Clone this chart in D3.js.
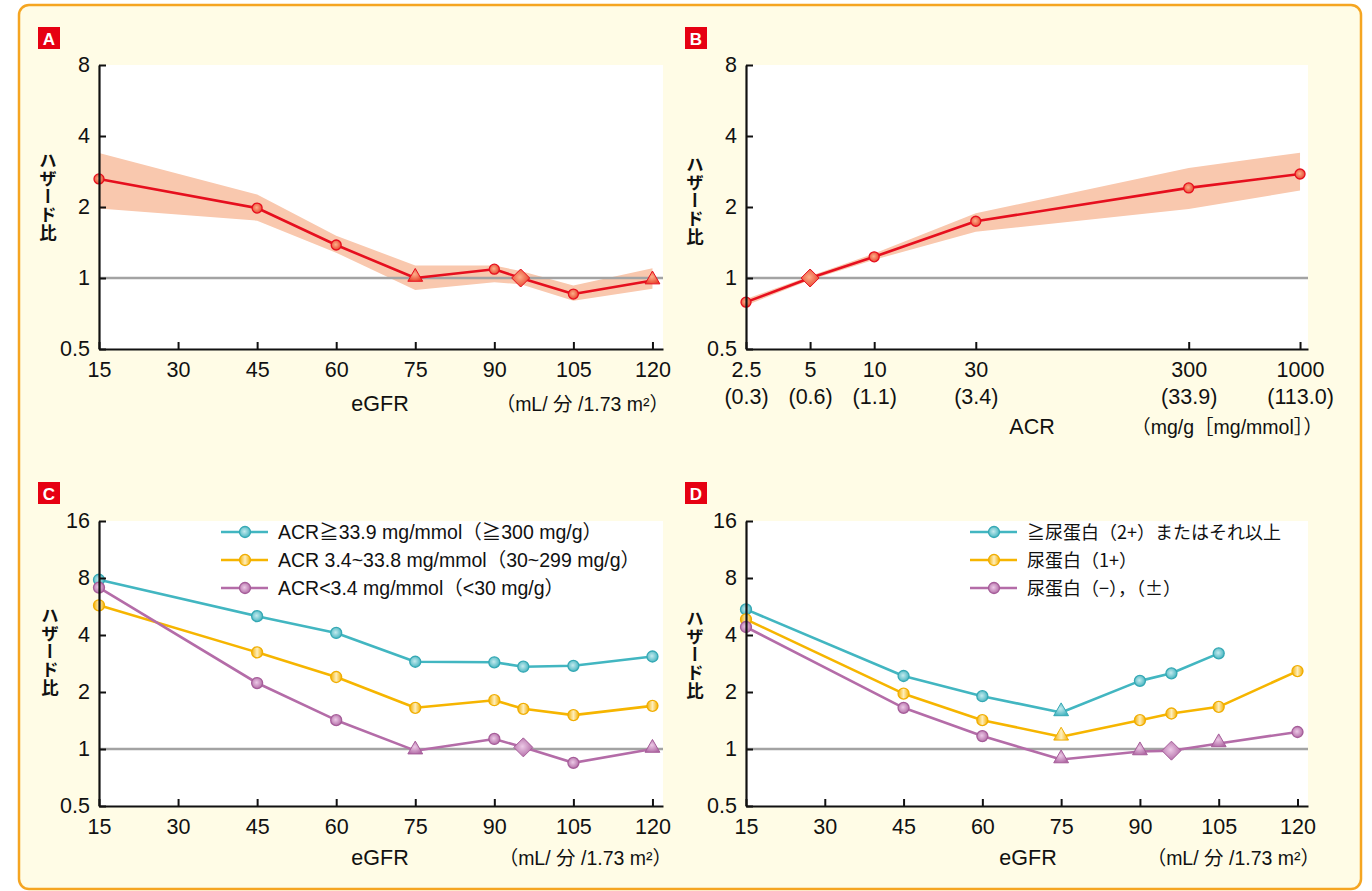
<!DOCTYPE html>
<html>
<head>
<meta charset="utf-8">
<script src="https://cdn.jsdelivr.net/npm/d3@7"></script>
<style>
  body { margin: 0; background: #fff; }
  text { font-family: "Liberation Sans", Arial, "Noto Sans CJK JP", sans-serif; fill: #111; }
  .jp { font-family: "Noto Sans CJK JP", sans-serif; }
</style>
</head>
<body>
<div id="chart"></div>
<script>
// ---- data (hazard ratios) ----
const eGFR_A = [15, 45, 60, 75, 90, 95, 105, 120]
const hr_A = [2.63, 1.98, 1.38, 1.0, 1.09, 1.0, 0.855, 0.975]
const hrHi_A = [3.39, 2.26, 1.51, 1.13, 1.13, 1.07, 0.93, 1.10]
const hrLo_A = [1.97, 1.75, 1.28, 0.89, 0.96, 0.94, 0.80, 0.90]
const mark_A = ["c", "c", "c", "t", "c", "d", "c", "t"]

const acr_B = [2.5, 5, 10, 30, 300, 1000]
const acrTicks = ["2.5", "5", "10", "30", "300", "1000"]
const acrTicksMmol = ["(0.3)", "(0.6)", "(1.1)", "(3.4)", "(33.9)", "(113.0)"]
const hr_B = [0.79, 1.0, 1.23, 1.74, 2.41, 2.76]
const hrHi_B = [0.815, 1.02, 1.27, 1.88, 2.93, 3.40]
const hrLo_B = [0.765, 0.98, 1.195, 1.57, 1.96, 2.35]
const mark_B = ["c", "d", "c", "c", "c", "c"]

const eGFR_C = [15, 45, 60, 75, 90, 95.5, 105, 120]
const acrHigh_C = [7.83, 5.03, 4.10, 2.89, 2.87, 2.72, 2.75, 3.08]
const acrMid_C = [5.74, 3.24, 2.40, 1.65, 1.81, 1.63, 1.51, 1.69]
const acrLow_C = [7.12, 2.23, 1.42, 0.98, 1.13, 1.02, 0.845, 1.0]
const markLow_C = ["c", "c", "c", "t", "c", "d", "c", "t"]
const legend_C = ["ACR≧33.9 mg/mmol（≧300 mg/g）", "ACR 3.4~33.8 mg/mmol（30~299 mg/g）", "ACR<3.4 mg/mmol（<30 mg/g）"]

const eGFR_D = [15, 45, 60, 75, 90, 96, 105, 120]
const prot2_D = [5.46, 2.43, 1.90, 1.56, 2.29, 2.51, 3.20]
const prot1_D = [4.84, 1.96, 1.42, 1.16, 1.42, 1.54, 1.67, 2.58]
const protNeg_D = [4.41, 1.65, 1.17, 0.88, 0.97, 0.98, 1.07, 1.23]
const mark2_D = ["c", "c", "c", "t", "c", "c", "c"]
const mark1_D = ["c", "c", "c", "t", "c", "c", "c", "c"]
const markNeg_D = ["c", "c", "c", "t", "t", "d", "t", "c"]
const legend_D = ["≧尿蛋白（2+）またはそれ以上", "尿蛋白（1+）", "尿蛋白（−），（±）"]

const eGFRTicks = [15, 30, 45, 60, 75, 90, 105, 120]
const hrTicks8 = [0.5, 1, 2, 4, 8]
const hrTicks16 = [0.5, 1, 2, 4, 8, 16]

const RED = "#e60f1e", CYAN = "#42b6c1", YEL = "#f6b500", PUR = "#b46ca8"
const BAND = "#f9c8ae"

const W = 1372, H = 891

const svg = d3.select("#chart").append("svg")
  .attr("width", W).attr("height", H)

// gradients for the glossy markers
const defs = svg.append("defs")
function radial(id, inner, outer) {
  const gr = defs.append("radialGradient").attr("id", id).attr("cx", "45%").attr("cy", "45%").attr("r", "60%")
  gr.append("stop").attr("offset", "0%").attr("stop-color", inner)
  gr.append("stop").attr("offset", "100%").attr("stop-color", outer)
}
radial("gRed", "#fbb08a", "#e9402a")
radial("gCyan", "#c4eaee", "#3fb2be")
radial("gPur", "#ecc9e6", "#b068a4")
const gy = defs.append("linearGradient").attr("id", "gYel")
gy.append("stop").attr("offset", "0%").attr("stop-color", "#f5b000")
gy.append("stop").attr("offset", "50%").attr("stop-color", "#fdeebd")
gy.append("stop").attr("offset", "100%").attr("stop-color", "#f5b000")

// frame
svg.append("rect")
  .attr("x", 19).attr("y", 5).attr("width", 1342).attr("height", 884)
  .attr("rx", 10).attr("fill", "#fffce6")
  .attr("stroke", "#f5a521").attr("stroke-width", 2.5)

function panelLabel(px, py, letter) {
  svg.append("rect").attr("x", px).attr("y", py).attr("width", 22).attr("height", 22).attr("fill", "#e60012")
  svg.append("text").attr("x", px + 11).attr("y", py + 18).attr("text-anchor", "middle")
    .attr("font-size", 17).attr("font-weight", "bold").style("fill", "#fff").text(letter)
}

function yLabel(cx, top) {
  svg.append("text").attr("class", "jp")
    .attr("x", cx).attr("y", top)
    .style("writing-mode", "vertical-rl")
    .style("text-orientation", "upright")
    .attr("font-size", 17.5)
    .attr("font-weight", "bold")
    .attr("letter-spacing", 0.5)
    .text("ハザード比")
}

function marker(g, type, cx, cy, fill, stroke, size) {
  if (type === "c") {
    g.append("circle").attr("cx", cx).attr("cy", cy).attr("r", size)
      .attr("fill", fill).attr("stroke", stroke).attr("stroke-width", 1.3)
  } else if (type === "t") {
    g.append("path").attr("d", d3.symbol(d3.symbolTriangle, 95)()).attr("transform", `translate(${cx},${cy - 1})`)
      .attr("fill", fill).attr("stroke", stroke).attr("stroke-width", 1)
  } else {
    const s = size + 4
    g.append("path").attr("d", `M0,${-s}L${s},0L0,${s}L${-s},0Z`).attr("transform", `translate(${cx},${cy})`)
      .attr("fill", fill).attr("stroke", stroke).attr("stroke-width", 1)
  }
}

function frame(x, y) {
  const g = svg.append("g")
  const [x0, x1] = x.range()
  const [y0, y1] = y.range()
  g.append("rect").attr("x", x0).attr("y", y1).attr("width", x1 - x0).attr("height", y0 - y1).attr("fill", "#fff")
  return g
}

function axes(g, x, y, ticksY, xAxisCall) {
  const [x0] = x.range()
  const [y0] = y.range()
  const yAxis = g.append("g").attr("transform", `translate(${x0},0)`)
    .call(d3.axisLeft(y).tickValues(ticksY).tickFormat(d3.format("")).tickSize(-7).tickSizeOuter(0).tickPadding(9))
  const xAxis = g.append("g").attr("transform", `translate(0,${y0})`).call(xAxisCall)
  ;[yAxis, xAxis].forEach(a => {
    a.select(".domain").attr("stroke", "#111").attr("stroke-width", 2.2)
    a.selectAll(".tick line").attr("stroke", "#111").attr("stroke-width", 2)
    a.selectAll(".tick text").attr("font-size", 21.5).attr("font-family", "Liberation Sans, Arial, sans-serif").style("fill", "#111")
  })
  return xAxis
}

function refLine(g, x, y) {
  g.append("line").attr("x1", x.range()[0]).attr("x2", x.range()[1])
    .attr("y1", y(1)).attr("y2", y(1)).attr("stroke", "#a3a3a3").attr("stroke-width", 2.5)
}

function series(g, x, y, xs, ys, marks, color, fill, stroke, r) {
  const line = d3.line().x((d, i) => x(xs[i])).y(d => y(d))
  g.append("path").datum(ys).attr("d", line).attr("fill", "none")
    .attr("stroke", color).attr("stroke-width", 2.6).attr("stroke-linejoin", "round")
  ys.forEach((v, i) => marker(g, marks[i], x(xs[i]), y(v), fill, stroke, r))
}

function band(g, x, y, xs, lo, hi) {
  const area = d3.area().x((d, i) => x(xs[i])).y0((d, i) => y(lo[i])).y1((d, i) => y(hi[i]))
  g.append("path").datum(xs).attr("d", area).attr("fill", BAND)
}

function xLabels(cx, unitEnd, base, name, unit) {
  svg.append("text").attr("x", cx).attr("y", base).attr("text-anchor", "middle").attr("font-size", 21.5).text(name)
  svg.append("text").attr("x", unitEnd).attr("y", base).attr("text-anchor", "end").attr("font-size", 19.5).text(unit)
}

const eGFRAxis = x => d3.axisBottom(x).tickValues(eGFRTicks).tickSize(-7).tickSizeOuter(0).tickPadding(13)

function legend(x0, rows, colors, fills, strokes, cls, fs) {
  rows.forEach((t, i) => {
    const yy = 532 + i * 28
    svg.append("line").attr("x1", x0).attr("x2", x0 + 47).attr("y1", yy).attr("y2", yy)
      .attr("stroke", colors[i]).attr("stroke-width", 2.6)
    svg.append("circle").attr("cx", x0 + 24).attr("cy", yy).attr("r", 5.5)
      .attr("fill", fills[i]).attr("stroke", strokes[i]).attr("stroke-width", 1.3)
    svg.append("text").attr("class", cls).attr("x", x0 + 57).attr("y", yy + 6.5).attr("font-size", fs).text(t)
  })
}

// ---- Panel A ----
{
  const x = d3.scaleLinear().domain([15, 122]).range([99, 663])
  const y = d3.scaleLog().base(2).domain([0.5, 8]).range([349, 65])
  const g = frame(x, y)
  band(g, x, y, eGFR_A, hrLo_A, hrHi_A)
  refLine(g, x, y)
  series(g, x, y, eGFR_A, hr_A, mark_A, RED, "url(#gRed)", RED, 5)
  axes(g, x, y, hrTicks8, eGFRAxis(x))
  panelLabel(38, 27, "A")
  yLabel(48, 152)
  xLabels(380, 669, 411, "eGFR", "（mL/ 分 /1.73 m²）")
}

// ---- Panel B ----
{
  const x = d3.scaleLog().domain([2.5, 1090]).range([746, 1308])
  const y = d3.scaleLog().base(2).domain([0.5, 8]).range([349, 65])
  const g = frame(x, y)
  band(g, x, y, acr_B, hrLo_B, hrHi_B)
  refLine(g, x, y)
  series(g, x, y, acr_B, hr_B, mark_B, RED, "url(#gRed)", RED, 5)
  const xa = axes(g, x, y, hrTicks8,
    d3.axisBottom(x).tickValues(acr_B).tickFormat((d, i) => acrTicks[i]).tickSize(-7).tickSizeOuter(0).tickPadding(13))
  xa.selectAll(".tick").append("text")
    .attr("y", 55).attr("text-anchor", "middle").attr("font-size", 21.5).style("fill", "#111")
    .text((d, i) => acrTicksMmol[i])
  panelLabel(685, 27, "B")
  yLabel(695, 156)
  xLabels(1032, 1323, 434, "ACR", "（mg/g［mg/mmol］）")
}

// ---- Panel C ----
{
  const x = d3.scaleLinear().domain([15, 122]).range([99, 663])
  const y = d3.scaleLog().base(2).domain([0.5, 16]).range([806, 521])
  const g = frame(x, y)
  refLine(g, x, y)
  series(g, x, y, eGFR_C, acrHigh_C, eGFR_C.map(() => "c"), CYAN, "url(#gCyan)", "#35a8b4", 5.5)
  series(g, x, y, eGFR_C, acrMid_C, eGFR_C.map(() => "c"), YEL, "url(#gYel)", "#f0ad00", 5.5)
  series(g, x, y, eGFR_C, acrLow_C, markLow_C, PUR, "url(#gPur)", "#a55d99", 5.5)
  axes(g, x, y, hrTicks16, eGFRAxis(x))
  legend(221, legend_C, [CYAN, YEL, PUR], ["url(#gCyan)", "url(#gYel)", "url(#gPur)"], ["#35a8b4", "#f0ad00", "#a55d99"], "", 19.5)
  panelLabel(38, 482, "C")
  yLabel(50, 607)
  xLabels(380, 672, 865, "eGFR", "（mL/ 分 /1.73 m²）")
}

// ---- Panel D ----
{
  const x = d3.scaleLinear().domain([15, 122]).range([746, 1308])
  const y = d3.scaleLog().base(2).domain([0.5, 16]).range([806, 521])
  const g = frame(x, y)
  refLine(g, x, y)
  series(g, x, y, eGFR_D.slice(0, prot2_D.length), prot2_D, mark2_D, CYAN, "url(#gCyan)", "#35a8b4", 5.5)
  series(g, x, y, eGFR_D, prot1_D, mark1_D, YEL, "url(#gYel)", "#f0ad00", 5.5)
  series(g, x, y, eGFR_D, protNeg_D, markNeg_D, PUR, "url(#gPur)", "#a55d99", 5.5)
  axes(g, x, y, hrTicks16, eGFRAxis(x))
  legend(970, legend_D, [CYAN, YEL, PUR], ["url(#gCyan)", "url(#gYel)", "url(#gPur)"], ["#35a8b4", "#f0ad00", "#a55d99"], "jp", 18)
  panelLabel(685, 482, "D")
  yLabel(695, 610)
  xLabels(1028, 1320, 865, "eGFR", "（mL/ 分 /1.73 m²）")
}
</script>
</body>
</html>
